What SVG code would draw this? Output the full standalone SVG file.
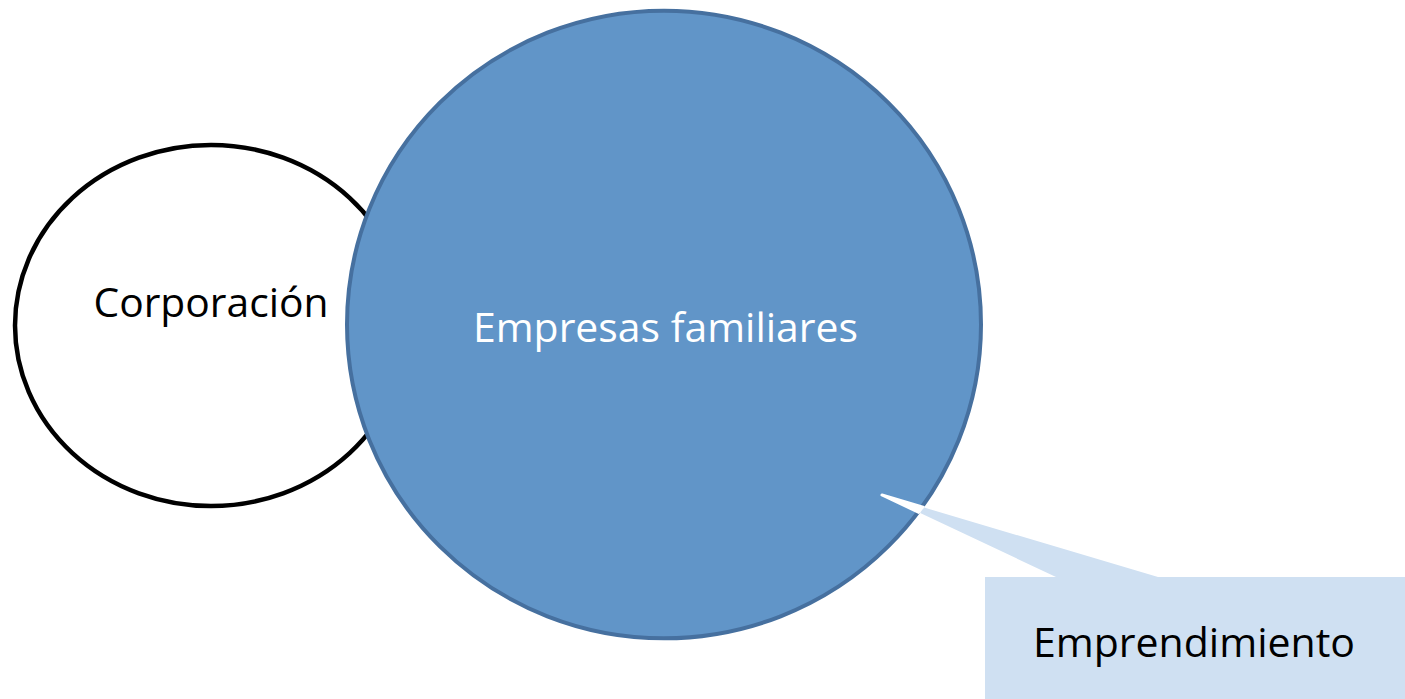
<svg xmlns="http://www.w3.org/2000/svg" width="1405" height="699" viewBox="0 0 1405 699">
<style>
.lbl{font-family:"Open Sans","Liberation Sans",sans-serif;font-size:40px;text-anchor:middle}
</style>
<defs>
<clipPath id="inBlue"><ellipse cx="664" cy="324.5" rx="319" ry="315.8"/></clipPath>
</defs>
<rect width="1405" height="699" fill="#ffffff"/>
<g id="corporacion">
<ellipse cx="211" cy="325.5" rx="196" ry="180.5" fill="#ffffff" stroke="#000000" stroke-width="4.5"/>
<text class="lbl" x="211" y="317" fill="#000000" textLength="235" lengthAdjust="spacingAndGlyphs">Corporación</text>
</g>
<g id="empresas-familiares">
<ellipse cx="664" cy="324.5" rx="317" ry="313.8" fill="#6195C8" stroke="#46709F" stroke-width="4"/>
<text class="lbl" x="665.5" y="342" fill="#ffffff" textLength="385" lengthAdjust="spacingAndGlyphs">Empresas familiares</text>
</g>
<g id="emprendimiento">
<path d="M985,577 L1056,577 L882,495 L1158,577 L1405,577 L1405,699 L985,699 Z" fill="#CFE0F2"/>
<path d="M1056,577 L882,495 L1158,577 Z" fill="#ffffff" stroke="#ffffff" stroke-width="3" stroke-linejoin="round" clip-path="url(#inBlue)"/>
<text class="lbl" x="1194" y="657" fill="#000000" textLength="322" lengthAdjust="spacingAndGlyphs">Emprendimiento</text>
</g>
</svg>
